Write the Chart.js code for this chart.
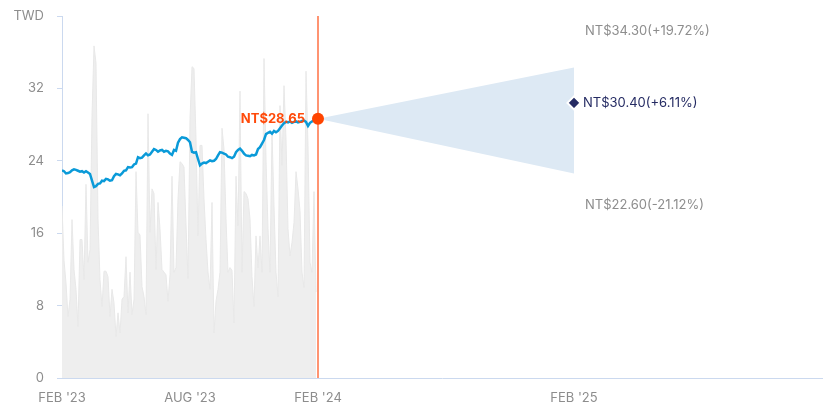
<!DOCTYPE html>
<html>
<head>
<meta charset="utf-8">
<script src="https://cdn.jsdelivr.net/npm/chart.js@4/dist/chart.umd.min.js"></script>
<style>
  html, body { margin: 0; padding: 0; background: #ffffff; }
  #wrap { width: 823px; height: 404px; }
</style>
</head>
<body>
<div id="wrap"><canvas id="chart" width="823" height="404"></canvas></div>
<script>
// Months are counted from FEB '23 (0). Daily history is sampled on an even grid.
const xTickMonths = [0, 6, 12, 24];
const xTickLabels = ["FEB '23", "AUG '23", "FEB '24", "FEB '25"];
const yTicks = [0, 8, 16, 24, 32, 40];
const yUnitLabel = "TWD";
const xMaxMonth = 35.625;
const historyStepMonths = 12 / 128;

// Closing price, TWD
const priceValues = [
  22.95, 22.85, 22.6, 22.65, 22.75, 22.95, 23.05, 23.0, 22.9, 22.8,
  22.85, 22.7, 22.85, 22.7, 22.55, 21.8, 21.1, 21.2, 21.45, 21.5,
  21.8, 21.75, 22.0, 21.95, 21.8, 21.85, 22.3, 22.55, 22.5, 22.4,
  22.6, 22.9, 22.95, 23.3, 23.25, 23.3, 23.6, 23.7, 24.4, 24.3,
  24.35, 24.6, 24.8, 24.6, 24.7, 25.0, 25.3, 25.2, 25.0, 25.15,
  25.2, 25.0, 25.1, 25.05, 24.8, 24.65, 25.2, 25.1, 26.0, 26.4,
  26.6, 26.55, 26.5, 26.3, 26.05, 25.0, 24.9, 24.95, 24.2, 23.5,
  23.7, 23.8, 23.75, 23.9, 24.05, 23.95, 24.0, 24.2, 24.6, 24.95,
  24.9, 24.8, 24.7, 24.45, 24.4, 24.3, 24.45, 24.95, 25.2, 25.35,
  25.1, 24.8, 24.6, 24.55, 24.5, 24.65, 24.6, 24.7, 25.3, 25.5,
  25.9, 26.3, 26.95, 27.1, 27.2, 27.0, 27.3, 27.15, 27.3, 27.6,
  27.9, 28.15, 28.3, 28.25, 28.35, 28.2, 28.3, 28.35, 28.25, 28.3,
  28.4, 28.45, 28.3, 27.85, 28.2, 28.35, 28.5, 28.75, 28.65
];

// Trading volume, drawn on the same axis
const volumeValues = [
  19, 13, 10.5, 6.8, 8.7, 17.5, 12, 9.8, 5.7, 15.3,
  15.3, 10.9, 21.4, 12.8, 14.2, 29, 36.7, 34.8, 17.6, 10.9,
  7.9, 11.8, 11.8, 11.2, 6.8, 9.8, 8.3, 4.6, 7.2, 5,
  8.7, 9, 13.4, 7.2, 11.7, 7, 8.7, 22.8, 16.1, 15.8,
  10.1, 9, 7, 29.2, 16.1, 20.9, 20.4, 12, 19.4, 16.5,
  12, 11.7, 11.4, 8.5, 11.4, 22.3, 11.7, 12.2, 19.8, 23.9,
  23.7, 23.3, 17, 11, 28.7, 34.4, 34.2, 26.4, 15.7, 25.7,
  25.7, 19.8, 15.3, 11.7, 9.8, 19.4, 5, 8.5, 9.8, 11.7,
  27.6, 25.3, 17.6, 11.7, 12.2, 11.9, 6.1, 22.3, 16.8, 31.7,
  11.7, 20.6, 20.4, 19.8, 17.6, 11.2, 7.9, 15.7, 12.2, 15.7,
  11.7, 35.3, 24.2, 16.5, 11.7, 27.2, 19, 11.7, 9, 30.1,
  23.5, 32.3, 26.4, 16.5, 13.5, 15, 17.2, 22.8, 20.9, 18.5,
  11.7, 10, 33.9, 25.7, 12.8, 11.7, 20.6, 9.5
];

// 12-month price targets
const lastPrice = 28.65;
const lastMonth = 12;
const targetMonth = 24;
const targetHigh = 34.30;
const targetAvg = 30.40;
const targetLow = 22.60;

const FONT = "Inter, 'Open Sans', 'DejaVu Sans', sans-serif";
const AXIS_COLOR = '#cbd9ef';
const TEXT_GRAY = '#8d8d8d';

const toPoints = (vals) => vals.map((v, i) => ({ x: i * historyStepMonths, y: v }));
const pct = (v) => {
  const p = (v - lastPrice) / lastPrice * 100;
  return (p >= 0 ? '+' : '') + p.toFixed(2) + '%';
};
const money = (v) => 'NT$' + v.toFixed(2);

const labelPlugin = {
  id: 'priceLabels',
  afterDatasetsDraw(chart) {
    const { ctx, scales: { x, y } } = chart;
    ctx.save();
    ctx.textBaseline = 'middle';

    // current price
    ctx.font = `bold 13px ${FONT}`;
    ctx.fillStyle = '#ff4a0a';
    ctx.textAlign = 'right';
    ctx.fillText(money(lastPrice), x.getPixelForValue(lastMonth) - 13, y.getPixelForValue(lastPrice));

    const tx = x.getPixelForValue(targetMonth);
    ctx.textAlign = 'left';
    ctx.font = `13px ${FONT}`;
    ctx.fillStyle = TEXT_GRAY;
    ctx.fillText(money(targetHigh) + '(' + pct(targetHigh) + ')', tx + 11, y.getPixelForValue(targetHigh) - 36);
    ctx.fillText(money(targetLow) + '(' + pct(targetLow) + ')', tx + 11, y.getPixelForValue(targetLow) + 32);
    ctx.fillStyle = '#252b63';
    ctx.fillText(money(targetAvg) + '(' + pct(targetAvg) + ')', tx + 9, y.getPixelForValue(targetAvg));
    ctx.restore();
  }
};

new Chart(document.getElementById('chart'), {
  type: 'line',
  data: {
    datasets: [
      {
        label: 'volume',
        data: toPoints(volumeValues),
        borderColor: '#e8e8e8',
        borderWidth: 1,
        backgroundColor: '#eeeeee',
        fill: 'origin',
        pointRadius: 0,
        tension: 0,
        order: 6
      },
      {
        label: 'high',
        data: [{ x: lastMonth, y: lastPrice }, { x: targetMonth, y: targetHigh }],
        borderWidth: 0,
        borderColor: 'rgba(0,0,0,0)',
        backgroundColor: '#dde9f4',
        fill: '+1',
        pointRadius: 0,
        order: 5
      },
      {
        label: 'low',
        data: [{ x: lastMonth, y: lastPrice }, { x: targetMonth, y: targetLow }],
        borderWidth: 0,
        borderColor: 'rgba(0,0,0,0)',
        fill: false,
        pointRadius: 0,
        order: 5
      },
      {
        label: 'today',
        data: [{ x: lastMonth, y: 0 }, { x: lastMonth, y: 40 }],
        borderColor: '#ff7043',
        borderWidth: 1.5,
        pointRadius: 0,
        fill: false,
        order: 3
      },
      {
        label: 'price',
        data: toPoints(priceValues),
        borderColor: '#0a9ad8',
        borderWidth: 2.5,
        pointRadius: 0,
        tension: 0,
        fill: false,
        order: 2
      },
      {
        label: 'last',
        data: [{ x: lastMonth, y: lastPrice }],
        showLine: false,
        pointRadius: 6,
        pointBackgroundColor: '#ff4400',
        pointBorderWidth: 0,
        order: 1
      },
      {
        label: 'average target',
        data: [{ x: targetMonth, y: targetAvg }],
        showLine: false,
        pointStyle: 'rectRot',
        pointRadius: 6.5,
        pointBackgroundColor: '#252b63',
        pointBorderColor: '#ffffff',
        pointBorderWidth: 2,
        order: 0
      }
    ]
  },
  options: {
    responsive: false,
    animation: false,
    devicePixelRatio: 1,
    layout: { autoPadding: false, padding: { top: 16, right: 1, left: 0, bottom: 0 } },
    plugins: { legend: { display: false }, tooltip: { enabled: false } },
    scales: {
      x: {
        type: 'linear',
        min: 0,
        max: xMaxMonth,
        afterBuildTicks: (s) => { s.ticks = xTickMonths.map(v => ({ value: v })); },
        afterFit: (s) => { s.height = 26; s.paddingLeft = 0; s.paddingRight = 0; },
        grid: { display: false, drawTicks: false },
        border: { display: true, color: AXIS_COLOR, width: 1 },
        ticks: {
          autoSkip: false,
          maxRotation: 0,
          padding: 12,
          color: TEXT_GRAY,
          font: { family: FONT, size: 13 },
          callback: (v) => {
            const i = xTickMonths.indexOf(v);
            return i >= 0 ? xTickLabels[i] : '';
          }
        }
      },
      y: {
        min: 0,
        max: 40,
        afterBuildTicks: (s) => { s.ticks = yTicks.map(v => ({ value: v })); },
        afterFit: (s) => { s.width = 62; s.paddingTop = 0; s.paddingBottom = 0; },
        grid: { drawOnChartArea: false, drawTicks: true, tickLength: 5, color: AXIS_COLOR },
        border: { display: true, color: AXIS_COLOR, width: 1 },
        ticks: {
          padding: 13,
          color: TEXT_GRAY,
          font: { family: FONT, size: 13 },
          callback: (v) => (v === 40 ? yUnitLabel : String(v))
        }
      }
    }
  },
  plugins: [labelPlugin]
});
</script>
</body>
</html>
